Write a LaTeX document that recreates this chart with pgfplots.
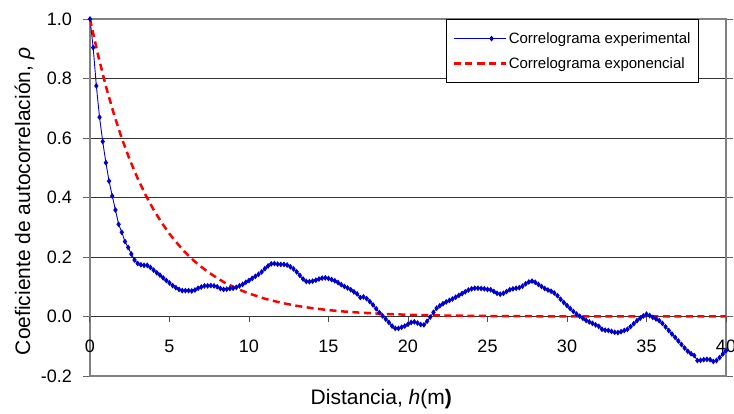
\documentclass[border=0pt]{standalone}
\usepackage{fontspec}
\setmainfont{Liberation Sans}
\usepackage{pgfplots}
\pgfplotsset{compat=1.18}
\definecolor{expblue}{RGB}{0,0,204}
\pgfplotstableread{
x y
0 1.000
0.2 0.904
0.4 0.775
0.6 0.670
0.8 0.588
1.0 0.517
1.2 0.455
1.4 0.405
1.6 0.358
1.8 0.310
2.0 0.283
2.2 0.252
2.4 0.232
2.6 0.210
2.8 0.190
3.0 0.178
3.2 0.174
3.4 0.172
3.6 0.172
3.8 0.165
4.0 0.156
4.2 0.147
4.4 0.139
4.6 0.130
4.8 0.121
5.0 0.113
5.2 0.104
5.4 0.097
5.6 0.091
5.8 0.087
6.0 0.087
6.2 0.087
6.4 0.086
6.6 0.089
6.8 0.095
7.0 0.099
7.2 0.103
7.4 0.103
7.6 0.104
7.8 0.103
8.0 0.100
8.2 0.094
8.4 0.091
8.6 0.092
8.8 0.094
9.0 0.095
9.2 0.098
9.4 0.103
9.6 0.108
9.8 0.115
10.0 0.121
10.2 0.128
10.4 0.135
10.6 0.142
10.8 0.150
11.0 0.161
11.2 0.170
11.4 0.177
11.6 0.178
11.8 0.176
12.0 0.175
12.2 0.175
12.4 0.173
12.6 0.167
12.8 0.160
13.0 0.150
13.2 0.138
13.4 0.126
13.6 0.118
13.8 0.117
14.0 0.119
14.2 0.122
14.4 0.126
14.6 0.129
14.8 0.130
15.0 0.128
15.2 0.124
15.4 0.120
15.6 0.114
15.8 0.107
16.0 0.101
16.2 0.096
16.4 0.090
16.6 0.083
16.8 0.076
17.0 0.064
17.2 0.066
17.4 0.060
17.6 0.050
17.8 0.039
18.0 0.026
18.2 0.013
18.4 0.002
18.6 -0.009
18.8 -0.020
19.0 -0.032
19.2 -0.040
19.4 -0.040
19.6 -0.036
19.8 -0.032
20.0 -0.026
20.2 -0.020
20.4 -0.018
20.6 -0.022
20.8 -0.027
21.0 -0.028
21.2 -0.016
21.4 -0.002
21.6 0.014
21.8 0.028
22.0 0.036
22.2 0.043
22.4 0.049
22.6 0.054
22.8 0.059
23.0 0.065
23.2 0.071
23.4 0.077
23.6 0.083
23.8 0.089
24.0 0.093
24.2 0.095
24.4 0.095
24.6 0.094
24.8 0.093
25.0 0.091
25.2 0.090
25.4 0.084
25.6 0.078
25.8 0.075
26.0 0.078
26.2 0.084
26.4 0.090
26.6 0.093
26.8 0.095
27.0 0.097
27.2 0.102
27.4 0.110
27.6 0.116
27.8 0.119
28.0 0.115
28.2 0.108
28.4 0.101
28.6 0.094
28.8 0.089
29.0 0.085
29.2 0.079
29.4 0.070
29.6 0.058
29.8 0.047
30.0 0.037
30.2 0.027
30.4 0.017
30.6 0.008
30.8 0.001
31.0 -0.006
31.2 -0.013
31.4 -0.018
31.6 -0.023
31.8 -0.028
32.0 -0.033
32.2 -0.043
32.4 -0.046
32.6 -0.047
32.8 -0.050
33.0 -0.053
33.2 -0.054
33.4 -0.051
33.6 -0.047
33.8 -0.043
34.0 -0.034
34.2 -0.024
34.4 -0.014
34.6 -0.006
34.8 0.002
35.0 0.008
35.2 0.003
35.4 -0.003
35.6 -0.008
35.8 -0.014
36.0 -0.023
36.2 -0.035
36.4 -0.047
36.6 -0.059
36.8 -0.070
37.0 -0.082
37.2 -0.094
37.4 -0.106
37.6 -0.117
37.8 -0.125
38.0 -0.131
38.2 -0.148
38.4 -0.147
38.6 -0.145
38.8 -0.144
39.0 -0.145
39.2 -0.151
39.4 -0.148
39.6 -0.138
39.8 -0.126
40.0 -0.115
}\experimental
\pgfplotstableread{
x y
0 1.000
0.5 0.880
1 0.774
1.5 0.681
2 0.599
2.5 0.527
3 0.464
3.5 0.408
4 0.359
4.5 0.316
5 0.278
5.5 0.245
6 0.215
6.5 0.189
7 0.167
7.5 0.147
8 0.129
8.5 0.113
9 0.0999
9.5 0.0879
10 0.0773
11 0.0598
12 0.0463
13 0.0359
14 0.0278
15 0.0215
16 0.0166
17 0.0129
18 0.0100
19 0.0077
20 0.0060
22 0.0036
24 0.0021
26 0.0013
28 0.0008
30 0.0005
35 0.0001
40 0.00004
}\exponencial
\begin{document}
\begin{tikzpicture}
\useasboundingbox (-90pt,-37pt) rectangle (644pt,376pt);
\begin{axis}[
  at={(0pt,0pt)}, anchor=south west,
  scale only axis, width=636pt, height=357pt,
  xmin=0, xmax=40, ymin=-0.2, ymax=1.0,
  xtick=\empty,
  ytick={-0.2,0,0.2,0.4,0.6,0.8,1.0},
  ymajorgrids,
  major grid style={black!80, line width=0.9pt},
  axis line style={black!50, line width=1.3pt},
  tick align=outside, major tick length=6.5pt,
  tick style={black!60, line width=1pt},
  /pgf/number format/assume math mode=true,
  yticklabel style={font=\fontsize{18}{20}\selectfont, xshift=-8pt,
    /pgf/number format/fixed, /pgf/number format/fixed zerofill,
    /pgf/number format/precision=1},
  every axis y label/.style={at={(rel axis cs:-0.0943,0.489)}, anchor=base, rotate=90, font=\fontsize{21}{24}\selectfont},
  every axis x label/.style={at={(rel axis cs:0.458,-0.0793)}, anchor=base, font=\fontsize{21}{24}\selectfont},
  ylabel={Coeficiente de autocorrelación, \textit{ρ}},
  xlabel={Distancia, \textit{h}(m\textbf{)}},
  legend cell align=left,
  legend style={at={(rel axis cs:0.9575,1)}, anchor=north east,
    draw=black, line width=0.8pt, fill=white,
    font=\fontsize{15}{17}\selectfont,
    inner xsep=6pt, inner ysep=11pt, row sep=8.5pt},
  legend image code/.code={%
    \path (-24pt,0pt) -- (0pt,0pt);
    \draw[mark repeat=2,mark phase=2,#1] plot coordinates {(0pt,0pt)(14pt,0pt)(28pt,0pt)};},
]
\addplot[expblue, line width=0.9pt, mark=diamond*, mark size=2.2pt, mark options={solid, fill=expblue}] table[x=x,y=y] {\experimental};
\addlegendentry{Correlograma experimental}
\addplot[red, line width=2.5pt, dash pattern=on 7pt off 4.5pt] table[x=x,y=y] {\exponencial};
\addlegendentry{Correlograma exponencial}
\end{axis}
\begin{axis}[
  at={(0pt,0pt)}, anchor=south west,
  scale only axis, width=636pt, height=357pt,
  xmin=0, xmax=40, ymin=-0.2, ymax=1.0,
  axis x line=middle, axis y line=none,
  x axis line style={-, draw=none},
  xtick={0,5,...,40}, ytick=\empty,
  xtick align=outside, major tick length=5pt,
  tick style={black!70, line width=1pt},
  hide obscured x ticks=false,
  /pgf/number format/assume math mode=true,
  xticklabel style={font=\fontsize{18}{20}\selectfont, yshift=-15pt},
]
\end{axis}
\end{tikzpicture}
\end{document}
